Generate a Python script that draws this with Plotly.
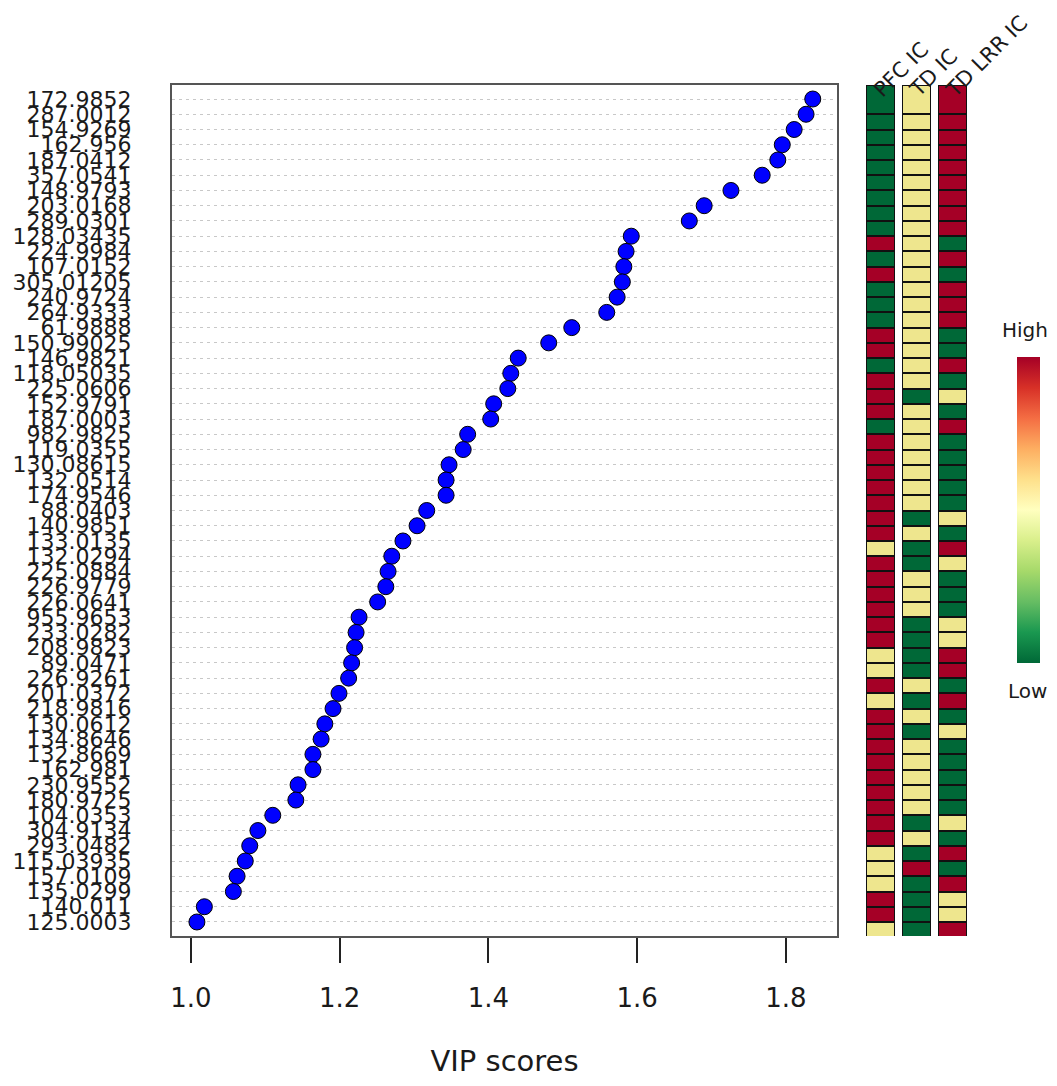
import plotly.graph_objects as go

W, H = 1057, 1086
OFF = 8  # default page margin of the html body
FW, FH = W - 2 * OFF, H - 2 * OFF

features = ["172.9852", "287.0012", "154.9269", "162.956", "187.0412", "357.0541", "148.9793",
            "203.0168", "289.0301", "128.03435", "224.9984", "107.0152", "305.01205", "240.9724",
            "264.9333", "61.9888", "150.99025", "146.9821", "118.05035", "225.0606", "152.9791",
            "187.0003", "982.9825", "119.0355", "130.08615", "132.0514", "174.9546", "88.0403",
            "140.9851", "133.0135", "132.0294", "225.0884", "226.9779", "226.0641", "955.9653",
            "233.0282", "208.9823", "89.0471", "226.9261", "201.0372", "218.9816", "130.0612",
            "134.8646", "132.8669", "162.981", "230.9552", "180.9725", "104.0353", "304.9134",
            "293.0482", "115.03935", "157.0109", "135.0299", "140.011", "125.0003"]

vip = [1.836, 1.827, 1.811, 1.795, 1.789, 1.768, 1.726, 1.690, 1.670, 1.592, 1.585, 1.582,
       1.580, 1.573, 1.559, 1.512, 1.481, 1.440, 1.430, 1.426, 1.407, 1.403, 1.372, 1.366,
       1.347, 1.343, 1.343, 1.317, 1.304, 1.285, 1.270, 1.265, 1.262, 1.251, 1.226, 1.222,
       1.220, 1.216, 1.212, 1.199, 1.191, 1.180, 1.175, 1.164, 1.164, 1.144, 1.141, 1.110,
       1.090, 1.079, 1.073, 1.062, 1.057, 1.018, 1.008]

# -1 = Low (green), 0 = middle (yellow), 1 = High (red)
pfc_ic = [-1, -1, -1, -1, -1, -1, -1, -1, -1, 1, -1, 1, -1, -1, -1, 1, 1, -1, 1, 1, 1, -1,
          1, 1, 1, 1, 1, 1, 1, 0, 1, 1, 1, 1, 1, 1, 0, 0, 1, 0, 1, 1, 1, 1, 1, 1, 1, 1, 1,
          0, 0, 0, 1, 1, 0]
td_ic = [0, 0, 0, 0, 0, 0, 0, 0, 0, 0, 0, 0, 0, 0, 0, 0, 0, 0, 0, -1, 0, 0, 0, 0, 0, 0, 0,
         -1, 0, -1, -1, 0, 0, 0, -1, -1, -1, -1, 0, -1, 0, -1, 0, 0, 0, 0, 0, -1, 0, -1, 1,
         -1, -1, -1, -1]
td_lrr_ic = [1, 1, 1, 1, 1, 1, 1, 1, 1, -1, 1, -1, 1, 1, 1, -1, -1, 1, -1, 0, -1, 1, -1, -1,
             -1, -1, -1, 0, -1, 1, 0, -1, -1, -1, 0, 0, 1, 1, -1, 1, -1, 0, -1, -1, -1, -1,
             -1, 0, -1, 1, -1, 1, 0, 0, 1]
columns = ["PFC IC", "TD IC", "TD LRR IC"]
x_ticks = [1.0, 1.2, 1.4, 1.6, 1.8]

n = len(features)
ypos = [n - 1 - i for i in range(n)]

# axis geometry (target pixels of the screenshot)
left, right, top, bottom = 172, 837, 85, 936
x_lo, x_hi = 0.9745, 1.8686
y_pad = 0.92
y_lo, y_hi = -y_pad, n - 1 + y_pad


def px_x(p):
    return (p - OFF) / FW


def px_y(p):
    return 1 - (p - OFF) / FH


fig = go.Figure()

fig.add_trace(go.Scatter(
    x=vip, y=ypos, mode="markers",
    marker=dict(size=16, color="#0000FF", line=dict(color="black", width=1)),
    xaxis="x", yaxis="y", showlegend=False, hoverinfo="x+text", text=features,
))

# heatmap (columns separated by empty gap columns)
cols = [pfc_ic, td_ic, td_lrr_ic]
nan = float("nan")
zrows = []
under = []
for j in range(n):
    k = n - 1 - j
    row = []
    urow = []
    for c in range(len(cols)):
        row.append(cols[c][k])
        urow.append(0)
        if c < len(cols) - 1:
            row.append(nan)
            urow.append(nan)
    zrows.append(row)
    under.append(urow)

col_w, gap_w = 1.0, 0.22
x_edges = [0.0]
for c in range(len(cols)):
    x_edges.append(x_edges[-1] + col_w)
    if c < len(cols) - 1:
        x_edges.append(x_edges[-1] + gap_w)
y_edges = [float(v) for v in range(-1, n - 1)] + [y_hi]

green, yellow, red = "#006837", "#EEE68E", "#A50026"

fig.add_trace(go.Heatmap(
    z=under, x=x_edges, y=y_edges, xaxis="x2", yaxis="y2",
    colorscale=[[0, "#111111"], [1, "#111111"]], showscale=False, hoverinfo="skip",
))
fig.add_trace(go.Heatmap(
    z=zrows, x=x_edges, y=y_edges, xaxis="x2", yaxis="y2",
    zmin=-1, zmax=1, xgap=2, ygap=2,
    colorscale=[[0, green], [0.5, yellow], [1, red]], showscale=False,
))

# colour key
fig.add_trace(go.Scatter(
    x=[vip[0], vip[-1]], y=[ypos[0], ypos[-1]], mode="markers", xaxis="x", yaxis="y",
    marker=dict(size=1, opacity=0, color=[0, 1], colorscale="RdYlGn", reversescale=True,
                showscale=True,
                colorbar=dict(x=px_x(1017), xanchor="left", y=px_y(510), yanchor="middle",
                              len=306, lenmode="pixels", thickness=23, thicknessmode="pixels",
                              showticklabels=False, ticks="", outlinewidth=0, xpad=0, ypad=0)),
    showlegend=False, hoverinfo="skip",
))

font_main = "DejaVu Sans"
ink = "#1a1a1a"

annotations = [
    dict(text="High", x=px_x(1025), y=px_y(330), xref="paper", yref="paper", showarrow=False,
         xanchor="center", yanchor="middle",
         font=dict(family=font_main, size=20, color=ink)),
    dict(text="Low", x=px_x(1027), y=px_y(691), xref="paper", yref="paper", showarrow=False,
         xanchor="center", yanchor="middle",
         font=dict(family=font_main, size=20, color=ink)),
]
col_left = [x_edges[0], x_edges[2], x_edges[4]]
for c, name in enumerate(columns):
    annotations.append(dict(
        text=name, x=col_left[c], y=px_y(105), xref="x2", yref="paper",
        xanchor="left", yanchor="bottom", textangle=-45, showarrow=False,
        font=dict(family=font_main, size=21, color=ink),
    ))

fig.update_layout(
    width=FW, height=FH, margin=dict(l=0, r=0, t=0, b=0, autoexpand=False),
    paper_bgcolor="white", plot_bgcolor="white", showlegend=False,
    font=dict(family=font_main, color=ink),
    xaxis=dict(domain=[px_x(left), px_x(right)], range=[x_lo, x_hi],
               tickvals=x_ticks, ticktext=[f"{v:.1f}" for v in x_ticks],
               ticks="outside", ticklen=25, tickwidth=1.5, tickcolor="#222",
               tickfont=dict(size=26, color=ink), ticklabelstandoff=13,
               showline=True, linecolor="#555", linewidth=2, mirror=True,
               showgrid=False, zeroline=False, automargin=False,
               title=dict(text="VIP scores", font=dict(size=29, color=ink), standoff=60)),
    yaxis=dict(domain=[px_y(bottom), px_y(top)], range=[y_lo, y_hi],
               tickvals=ypos, ticktext=features, ticks="", ticklabelstandoff=34,
               tickfont=dict(size=22, color=ink), automargin=False,
               showline=True, linecolor="#555", linewidth=2, mirror=True,
               showgrid=True, gridcolor="#c8c8c8", griddash="3px,4px", gridwidth=1,
               zeroline=False),
    xaxis2=dict(domain=[px_x(866), px_x(967)], range=[x_edges[0], x_edges[-1]],
                visible=False, anchor="y2"),
    yaxis2=dict(domain=[px_y(bottom), px_y(top)], range=[y_lo, y_hi],
                visible=False, anchor="x2"),
    annotations=annotations,
)

fig.write_html("out.html")
